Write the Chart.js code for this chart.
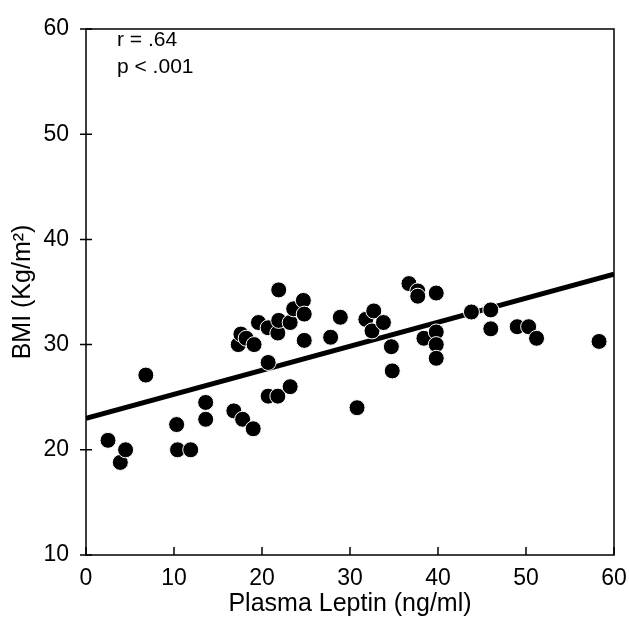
<!DOCTYPE html>
<html>
<head>
<meta charset="utf-8">
<script src="https://cdn.jsdelivr.net/npm/chart.js@4/dist/chart.umd.min.js"></script>
<style>
  html, body { margin: 0; padding: 0; background: #fff; }
  #wrap { width: 629px; height: 619px; }
</style>
</head>
<body>
<div id="wrap"><canvas id="bmiChart"></canvas></div>
<script>
// plasma leptin (ng/ml) vs BMI
const leptin = [2.5, 3.9, 4.5, 6.8, 10.3, 10.4, 11.9, 13.6, 13.6, 16.8, 17.8, 19.0,
  17.3, 17.6, 18.2, 19.1, 19.6, 20.7, 20.7, 20.7, 21.8, 21.8, 21.9, 21.9, 23.2, 23.2,
  23.6, 24.7, 24.8, 24.8, 27.8, 28.9, 30.8, 31.8, 32.5, 32.7, 33.8, 34.7, 34.8,
  36.7, 37.7, 37.7, 38.4, 39.8, 39.8, 39.8, 39.8, 43.8, 46.0, 46.0, 49.0, 50.3, 51.2, 58.3];
const bmi = [20.9, 18.8, 20.0, 27.1, 22.4, 20.0, 20.0, 24.5, 22.9, 23.7, 22.9, 22.0,
  30.0, 31.0, 30.6, 30.0, 32.1, 31.6, 28.3, 25.1, 25.1, 31.1, 32.3, 35.2, 32.1, 26.0,
  33.4, 34.2, 32.9, 30.4, 30.7, 32.6, 24.0, 32.4, 31.3, 33.2, 32.1, 29.8, 27.5,
  35.8, 35.1, 34.6, 30.6, 34.9, 31.2, 30.0, 28.7, 33.1, 33.3, 31.5, 31.7, 31.7, 30.6, 30.3];

// regression line end points
const fitX = [0, 60];
const fitY = [23.0, 36.7];

const xTicks = [0, 10, 20, 30, 40, 50, 60];
const yTicks = [10, 20, 30, 40, 50, 60];
const statsText = ["r = .64", "p < .001"];

const fontFamily = "'Liberation Sans', Arial, Helvetica, sans-serif";

// frame, inward x ticks, crossing y ticks and the r/p note
const framePlugin = {
  id: 'frame',
  afterDraw(chart) {
    const { ctx, chartArea: a, scales } = chart;
    ctx.save();
    ctx.strokeStyle = '#000';
    ctx.lineWidth = 1.5;
    ctx.strokeRect(a.left, a.top, a.right - a.left, a.bottom - a.top);
    ctx.beginPath();
    xTicks.forEach(v => {
      const px = scales.x.getPixelForValue(v);
      ctx.moveTo(px, a.bottom);
      ctx.lineTo(px, a.bottom - 8);
    });
    yTicks.forEach(v => {
      const py = scales.y.getPixelForValue(v);
      ctx.moveTo(a.left - 6, py);
      ctx.lineTo(a.left + 6, py);
    });
    ctx.stroke();

    ctx.fillStyle = '#000';
    ctx.font = '21px ' + fontFamily;
    ctx.textBaseline = 'middle';
    statsText.forEach((t, i) => {
      ctx.fillText(t, a.left + 31, a.top + 11 + i * 27);
    });
    ctx.restore();
  }
};

const ctx = document.getElementById('bmiChart').getContext('2d');

new Chart(ctx, {
  data: {
    datasets: [
      {
        type: 'scatter',
        data: leptin.map((x, i) => ({ x, y: bmi[i] })),
        backgroundColor: '#000',
        borderColor: '#fff',
        borderWidth: 1,
        pointRadius: 8,
        order: 1
      },
      {
        type: 'line',
        data: fitX.map((x, i) => ({ x, y: fitY[i] })),
        borderColor: '#000',
        borderWidth: 5,
        pointRadius: 0,
        order: 2
      }
    ]
  },
  options: {
    responsive: true,
    maintainAspectRatio: false,
    animation: false,
    layout: { padding: { top: 29, right: 15, left: 8, bottom: 0 } },
    plugins: {
      legend: { display: false },
      tooltip: { enabled: false }
    },
    scales: {
      x: {
        type: 'linear',
        min: 0,
        max: 60,
        afterFit: s => { s.height = 64; },
        grid: { display: false },
        border: { display: false },
        ticks: {
          stepSize: 10,
          color: '#000',
          padding: 2,
          maxRotation: 0,
          font: { family: fontFamily, size: 23 }
        },
        title: {
          display: true,
          text: 'Plasma Leptin (ng/ml)',
          color: '#000',
          padding: { top: 4, bottom: 0 },
          font: { family: fontFamily, size: 25 }
        }
      },
      y: {
        type: 'linear',
        min: 10,
        max: 60,
        afterFit: s => { s.width = 78; },
        grid: { display: false },
        border: { display: false },
        ticks: {
          stepSize: 10,
          color: '#000',
          padding: 9,
          font: { family: fontFamily, size: 23 }
        },
        title: {
          display: true,
          text: 'BMI (Kg/m²)',
          color: '#000',
          padding: { top: 0, bottom: 13 },
          font: { family: fontFamily, size: 25 }
        }
      }
    }
  },
  plugins: [framePlugin]
});
</script>
</body>
</html>
